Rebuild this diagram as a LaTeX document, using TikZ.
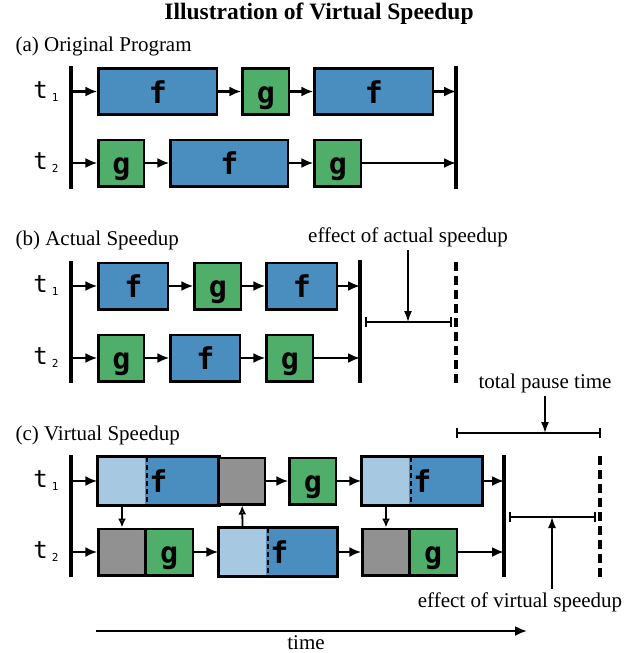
\documentclass[tikz,border=0pt]{standalone}
\usepackage{fontspec}
\setmainfont{Liberation Serif}
\setmonofont{DejaVu Sans Mono}
\usetikzlibrary{arrows.meta}

\definecolor{fblue}{HTML}{4A8EBF}
\definecolor{ggreen}{HTML}{4FAE6A}
\definecolor{lblue}{HTML}{A7C8E1}
\definecolor{pgray}{HTML}{919191}

\tikzset{
  task/.style={draw=black, line width=2.7pt, inner sep=0pt, minimum height=46.3pt,
    text height=23pt, text depth=0pt,
    anchor=west, font=\ttfamily\bfseries\fontsize{30}{30}\selectfont},
  fbox/.style={task, fill=fblue},
  gbox/.style={task, fill=ggreen},
  pausebox/.style={task, fill=pgray},
  delaybox/.style={task, draw=none, fill=lblue},
  splitf/.style={task, draw=none, fill=fblue, align=left, inner xsep=4pt, text width=#1},
  bar/.style={line width=4pt},
  dashbar/.style={line width=4pt, dash pattern=on 9pt off 5pt},
  flow/.style={-{Latex[length=12pt,width=10pt]}, line width=2.2pt},
  sync/.style={-{Latex[open,length=9pt,width=8pt]}, line width=1.8pt},
  span/.style={{Bar[width=10pt]}-{Bar[width=10pt]}, line width=1.6pt},
  label/.style={font=\fontsize{21}{24}\selectfont},
  thread/.style={font=\ttfamily\fontsize{24}{24}\selectfont}
}
\newcommand{\thr}[1]{t\,\raisebox{-3pt}{\fontsize{11}{11}\selectfont #1}}

\begin{document}
\begin{tikzpicture}[x=1pt,y=-1pt]
\useasboundingbox (0,0) rectangle (635,653);

% Title
\node[font=\bfseries\fontsize{23.5}{26}\selectfont] (title) at (319,14) {Illustration of Virtual Speedup};

% (a) Original Program
\node[label, anchor=west] (alab) at (12,46) {(a) Original Program};
\node[thread] (at1) at (46,91.5) {\thr{1}};
\node[thread] (at2) at (46,163) {\thr{2}};
\coordinate (aL) at (71,0);
\coordinate (aR) at (456,0);
\draw[bar] (71,66) -- (71,189);
\draw[bar] (456,66) -- (456,189);

\node[fbox, minimum width=118.3pt] (a11) at (97.3,91.5) {f};
\node[gbox, minimum width=46.3pt] (a12) at (241.3,91.5) {g};
\node[fbox, minimum width=118.3pt] (a13) at (313.3,91.5) {f};
\node[gbox, minimum width=45.3pt] (a21) at (97.3,163) {g};
\node[fbox, minimum width=117.3pt] (a22) at (169.3,163) {f};
\node[gbox, minimum width=46.3pt] (a23) at (313.3,163) {g};

\draw[flow] (aL |- a11) -- (a11);
\draw[flow] (a11) -- (a12);
\draw[flow] (a12) -- (a13);
\draw[flow] (a13) -- (aR |- a13);
\draw[flow] (aL |- a21) -- (a21);
\draw[flow] (a21) -- (a22);
\draw[flow] (a22) -- (a23);
\draw[flow] (a23) -- (aR |- a23);

% (b) Actual Speedup
\node[label, anchor=west] (blab) at (12,240) {(b) Actual Speedup};
\node[thread] (bt1) at (46,286) {\thr{1}};
\node[thread] (bt2) at (46,358) {\thr{2}};
\coordinate (bL) at (71,0);
\coordinate (bR) at (360,0);
\draw[bar] (71,261) -- (71,383);
\draw[bar] (360,260) -- (360,383);
\draw[dashbar] (456,262) -- (456,386);

\node[fbox, minimum width=69.3pt] (b11) at (97.3,286) {f};
\node[gbox, minimum width=46.3pt] (b12) at (193.3,286) {g};
\node[fbox, minimum width=70.3pt] (b13) at (265.3,286) {f};
\node[gbox, minimum width=45.3pt] (b21) at (97.3,358) {g};
\node[fbox, minimum width=69.3pt] (b22) at (169.3,358) {f};
\node[gbox, minimum width=46.3pt] (b23) at (265.3,358) {g};

\draw[flow] (bL |- b11) -- (b11);
\draw[flow] (b11) -- (b12);
\draw[flow] (b12) -- (b13);
\draw[flow] (b13) -- (bR |- b13);
\draw[flow] (bL |- b21) -- (b21);
\draw[flow] (b21) -- (b22);
\draw[flow] (b22) -- (b23);
\draw[flow] (b23) -- (bR |- b23);

% effect of actual speedup
\coordinate (bs1) at (365,322);
\coordinate (bs2) at (452,322);
\coordinate (bsm) at (408,322);
\draw[span] (bs1) -- (bs2);
\node[label] (bact) at (408,237) {effect of actual speedup};
\draw[-{Latex[length=11pt,width=8pt]}, line width=1.6pt] (bact) -- (bsm);

% (c) Virtual Speedup
\node[label, anchor=west] (clab) at (12,435) {(c) Virtual Speedup};
\node[thread] (ct1) at (46,481) {\thr{1}};
\node[thread] (ct2) at (46,552) {\thr{2}};
\coordinate (cL) at (71,0);
\coordinate (cR) at (504,0);
\draw[bar] (71,455) -- (71,577);
\draw[bar] (504,455) -- (504,577);
\draw[dashbar] (600,456) -- (600,579);

% thread 1
\node[delaybox, minimum width=46.7pt] (c11) at (97.3,481) {};
\node[splitf=65pt] (c12) at (144,481) {f};
\draw[line width=2.7pt] (c11.north west) rectangle (c12.south east);
\draw[line width=2pt, dash pattern=on 5pt off 3pt] (c11.north east) -- (c11.south east);
\node[pausebox, minimum width=46.7pt] (c13) at (217,481) {};
\node[gbox, minimum width=46.3pt] (c14) at (288.3,481) {g};
\node[delaybox, minimum width=46.7pt] (c15) at (361.3,481) {};
\node[splitf=63.7pt] (c16) at (408,481) {f};
\draw[line width=2.7pt] (c15.north west) rectangle (c16.south east);
\draw[line width=2pt, dash pattern=on 5pt off 3pt] (c15.north east) -- (c15.south east);

% thread 2
\node[pausebox, minimum width=46.7pt] (c21) at (97.3,552) {};
\node[gbox, minimum width=47.7pt] (c22) at (144,552) {g};
\node[delaybox, minimum width=46.7pt] (c23) at (218.3,552) {};
\node[splitf=61.7pt] (c24) at (265,552) {f};
\draw[line width=2.7pt] (c23.north west) rectangle (c24.south east);
\draw[line width=2pt, dash pattern=on 5pt off 3pt] (c23.north east) -- (c23.south east);
\node[pausebox, minimum width=46.7pt] (c25) at (361.3,552) {};
\node[gbox, minimum width=47.7pt] (c26) at (408,552) {g};

\draw[flow] (cL |- c11) -- (c11);
\draw[flow] (c13) -- (c14);
\draw[flow] (c14) -- (c15);
\draw[flow] (c16) -- (cR |- c16);
\draw[flow] (cL |- c21) -- (c21);
\draw[flow] (c22) -- (c23);
\draw[flow] (c24) -- (c25);
\draw[flow] (c26) -- (cR |- c26);

% pauses between threads
\draw[sync] (c11) -- (c21);
\draw[sync] (c23) -- (c13);
\draw[sync] (c15) -- (c25);

% total pause time
\coordinate (cp1) at (456,433);
\coordinate (cp2) at (601,433);
\coordinate (cpm) at (545,433);
\draw[span] (cp1) -- (cp2);
\node[label] (cpause) at (545,383) {total pause time};
\draw[-{Latex[length=11pt,width=8pt]}, line width=1.6pt] (cpause) -- (cpm);

% effect of virtual speedup
\coordinate (cv1) at (509,517);
\coordinate (cv2) at (596,517);
\coordinate (cvm) at (552,517);
\draw[span] (cv1) -- (cv2);
\node[label] (cvirt) at (520,602) {effect of virtual speedup};
\draw[-{Latex[length=11pt,width=8pt]}, line width=1.6pt] (cvirt.north -| cvm) -- (cvm);

% time axis
\coordinate (ts) at (96,631);
\coordinate (te) at (527,631);
\draw[flow] (ts) -- (te);
\node[label] (time) at (306,643) {time};
\end{tikzpicture}
\end{document}
